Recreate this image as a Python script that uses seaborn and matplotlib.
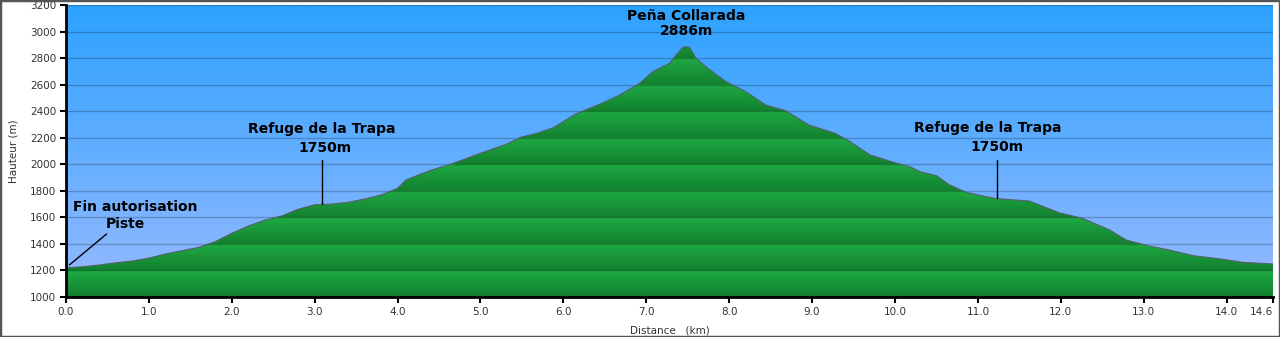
import numpy as np
import pandas as pd
import matplotlib
matplotlib.use("Agg")
import matplotlib.pyplot as plt
import seaborn as sns
from matplotlib.patches import Rectangle

# ---- data ----
dist = [0.0, 0.2, 0.4, 0.6, 0.8, 1.0, 1.2, 1.4, 1.6, 1.8, 2.0, 2.2, 2.4, 2.6, 2.8, 3.0,
        3.2, 3.4, 3.6, 3.8, 4.0, 4.1, 4.25, 4.39, 4.67, 5.0, 5.32, 5.48, 5.68, 5.88, 6.0,
        6.14, 6.48, 6.68, 6.92, 7.08, 7.28, 7.36, 7.44, 7.48, 7.52, 7.6, 7.76, 7.96, 8.2,
        8.44, 8.68, 8.96, 9.28, 9.46, 9.70, 9.98, 10.18, 10.30, 10.5, 10.66, 10.86, 11.06,
        11.23, 11.62, 11.98, 12.26, 12.59, 12.79, 13.07, 13.31, 13.6, 13.96, 14.2, 14.56]
elev = [1220, 1228, 1241, 1258, 1271, 1293, 1324, 1349, 1374, 1417, 1480, 1535, 1580, 1610,
        1661, 1695, 1700, 1713, 1738, 1768, 1819, 1881, 1919, 1952, 2007, 2083, 2153, 2203,
        2233, 2276, 2321, 2376, 2464, 2522, 2610, 2698, 2761, 2823, 2881, 2886, 2881, 2798,
        2715, 2623, 2547, 2447, 2404, 2296, 2233, 2170, 2070, 2015, 1982, 1944, 1914, 1844,
        1789, 1761, 1741, 1723, 1635, 1593, 1505, 1429, 1384, 1354, 1311, 1284, 1261, 1249]

x_ticks = [0, 1, 2, 3, 4, 5, 6, 7, 8, 9, 10, 11, 12, 13, 14, 14.56]
x_tick_labels = ["0.0", "1.0", "2.0", "3.0", "4.0", "5.0", "6.0", "7.0", "8.0", "9.0",
                 "10.0", "11.0", "12.0", "13.0", "14.0", "14.6"]
y_ticks = list(range(1000, 3201, 200))

# annotations
labels = [("Peña Collarada\n2886m", 7.48, 3060)]
refuge_names = [("Refuge de la Trapa", 3.09, 2266, 3.12, 2123, 3.09, 2032, 1700),
                ("Refuge de la Trapa", 11.12, 2273, 11.23, 2130, 11.23, 2032, 1746)]

df = pd.DataFrame({"dist": dist, "elev": elev})

sns.set_theme(style="white")
plt.rcParams['font.family'] = ['DejaVu Sans']

fig = plt.figure(figsize=(12.8, 3.37), dpi=100)
fig.patch.set_facecolor("white")
ax = fig.add_axes([66/1280, 1 - 297/337, (1273 - 66)/1280, (297 - 5)/337])

xmin, xmax, ymin, ymax = 0, 14.56, 1000, 3200

# sky gradient
top = np.array([44, 162, 255]) / 255
bot = np.array([152, 186, 255]) / 255
t = np.linspace(0, 1, 256)[:, None]
sky = bot + (top - bot) * t
ax.imshow(sky[:, None, :], extent=[xmin, xmax, ymin, ymax], origin="lower",
          aspect="auto", zorder=0, interpolation="bilinear")

# green banded fill
poly = ax.fill_between(df["dist"], ymin, df["elev"], color="none", lw=0, zorder=1)
yy = np.linspace(ymin, ymax, 1100)
frac = ((yy - ymin) % 200) / 200.0
light = np.array([30, 170, 68]) / 255
dark = np.array([18, 128, 46]) / 255
green = dark + (light - dark) * frac[:, None]
im = ax.imshow(green[:, None, :], extent=[xmin, xmax, ymin, ymax], origin="lower",
               aspect="auto", zorder=2, interpolation="bilinear")
im.set_clip_path(poly.get_paths()[0], transform=ax.transData)

# grid lines
for yv in y_ticks[1:]:
    ax.axhline(yv, color="black", alpha=0.22, lw=1, zorder=3)

# outline
sns.lineplot(data=df, x="dist", y="elev", color="#55606a", lw=0.8, ax=ax, zorder=4)

ax.set_xlim(xmin, xmax)
ax.set_ylim(ymin, ymax)
ax.set_xticks(x_ticks)
ax.set_xticklabels(x_tick_labels)
ax.get_xticklabels()[-1].set_horizontalalignment("right")
ax.set_yticks(y_ticks)
ax.set_yticklabels([str(v) for v in y_ticks])
ax.tick_params(axis="both", which="both", direction="out", length=4, width=1.5,
               colors="black", labelcolor="#333333", labelsize=7.5, pad=3,
               bottom=True, left=True)
for s in ["top", "right"]:
    ax.spines[s].set_visible(False)
for s in ["left", "bottom"]:
    ax.spines[s].set_color("black")
    ax.spines[s].set_linewidth(2)
    ax.spines[s].set_zorder(6)

ax.set_xlabel("Distance   (km)", fontsize=7.5, color="#333333", labelpad=6)
ax.set_ylabel("Hauteur (m)", fontsize=7.5, color="#333333", labelpad=8)

bold = dict(fontsize=10, fontweight="bold", color="black", ha="center", va="center", zorder=7)
for txt, x, y in labels:
    ax.text(x, y, txt, linespacing=1.15, **bold)

for name, nx, ny, vx, vy, lx, ly0, ly1 in refuge_names:
    ax.text(nx, ny, name, **bold)
    ax.text(vx, vy, "1750m", **bold)
    ax.plot([lx, lx], [ly0, ly1], color="black", lw=1, zorder=7)

ax.text(0.84, 1678, "Fin autorisation", **bold)
ax.text(0.72, 1550, "Piste", **bold)
ax.plot([0.49, 0.04], [1475, 1241], color="black", lw=1, zorder=7)

# figure border
fig.add_artist(Rectangle((0, 0), 1, 1, transform=fig.transFigure, fill=False,
                         edgecolor="#555555", lw=2.5))

fig.savefig("out.png", dpi=100)
